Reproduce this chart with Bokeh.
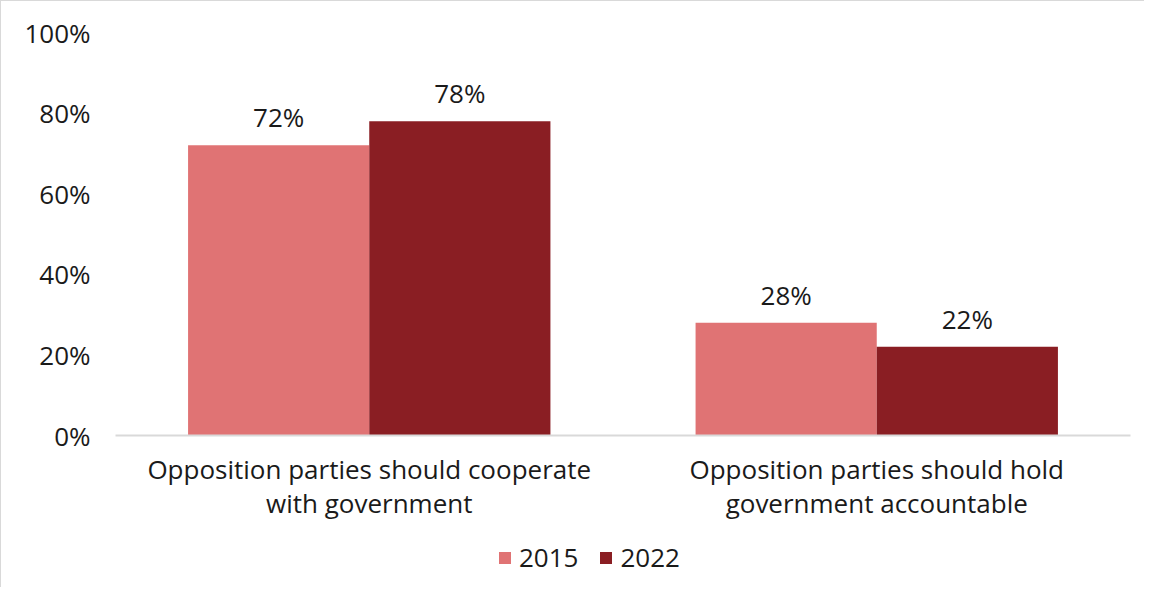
from bokeh.plotting import figure
from bokeh.layouts import column
from bokeh.models import ColumnDataSource, FactorRange, Range1d, Legend, LegendItem, LabelSet, NumeralTickFormatter, FixedTicker
from bokeh.core.properties import value
from bokeh.transform import dodge
from bokeh.embed import file_html
from bokeh.resources import INLINE

categories = ["Opposition parties should cooperate\nwith government",
              "Opposition parties should hold\ngovernment accountable"]
series_names = ["2015", "2022"]
values_2015 = [0.72, 0.28]
values_2022 = [0.78, 0.22]
colors = ["#E07374", "#8A1E23"]
y_ticks = [0, 0.2, 0.4, 0.6, 0.8, 1.0]

FONT = "Open Sans"
FS = "26px"
TXT = "#1a1a1a"

src = ColumnDataSource(dict(
    cat=categories,
    v2015=values_2015,
    v2022=values_2022,
    l2015=[f"{round(v*100)}%" for v in values_2015],
    l2022=[f"{round(v*100)}%" for v in values_2022],
))

p = figure(width=1143, height=534, x_range=FactorRange(*categories), y_range=Range1d(0, 1),
           output_backend="svg", toolbar_location=None,
           min_border_left=114, min_border_right=14, min_border_top=31, min_border_bottom=100)
p.outline_line_color = None
p.grid.grid_line_color = None

bw = 0.357
r1 = p.vbar(x=dodge("cat", -bw/2, range=p.x_range), top="v2015", width=bw, source=src,
            fill_color=colors[0], line_color=None)
r2 = p.vbar(x=dodge("cat", bw/2, range=p.x_range), top="v2022", width=bw, source=src,
            fill_color=colors[1], line_color=None)

for col, top, off in (("l2015", "v2015", -bw/2), ("l2022", "v2022", bw/2)):
    p.add_layout(LabelSet(x=dodge("cat", off, range=p.x_range), y=top, text=col, source=src,
                          y_offset=18, text_align="center", text_baseline="alphabetic",
                          text_font=value(FONT), text_font_size=value(FS), text_color=TXT))

p.yaxis.ticker = FixedTicker(ticks=y_ticks)
p.yaxis.formatter = NumeralTickFormatter(format="0%")
p.yaxis.axis_line_color = None
p.yaxis.major_tick_line_color = None
p.yaxis.minor_tick_line_color = None
p.yaxis.major_label_standoff = 19
p.yaxis.major_label_text_font = FONT
p.yaxis.major_label_text_font_size = FS
p.yaxis.major_label_text_color = TXT

p.xaxis.axis_line_color = "#d9d9d9"
p.xaxis.axis_line_width = 2
p.xaxis.major_tick_line_color = None
p.xaxis.minor_tick_line_color = None
p.xaxis.major_label_standoff = 9
p.xaxis.major_label_text_font = FONT
p.xaxis.major_label_text_font_size = FS
p.xaxis.major_label_text_line_height = 0.95
p.xaxis.major_label_text_color = TXT

# legend strip below the chart (series bars drawn outside its visible y range)
lg = figure(width=1143, height=52, x_range=FactorRange(*categories), y_range=Range1d(5, 6),
            output_backend="svg", toolbar_location=None,
            min_border_left=0, min_border_right=0, min_border_top=0, min_border_bottom=0)
lg.axis.visible = False
lg.grid.grid_line_color = None
lg.outline_line_color = None
g1 = lg.vbar(x="cat", top="v2015", width=bw, source=src, fill_color=colors[0], line_color=None)
g2 = lg.vbar(x="cat", top="v2022", width=bw, source=src, fill_color=colors[1], line_color=None)
legend = Legend(items=[LegendItem(label=series_names[0], renderers=[g1]),
                       LegendItem(label=series_names[1], renderers=[g2])],
                orientation="horizontal", location=(382, 12),
                padding=0, margin=0, spacing=20, glyph_width=15, glyph_height=15,
                label_standoff=7, label_text_font=FONT, label_text_font_size=FS,
                label_text_color=TXT, border_line_color=None, background_fill_alpha=0)
lg.add_layout(legend, "center")

layout = column(p, lg, spacing=0,
                styles={"border-left": "1px solid #d9d9d9", "border-top": "1px solid #d9d9d9"})

open("out.html", "w").write(file_html(layout, INLINE))
